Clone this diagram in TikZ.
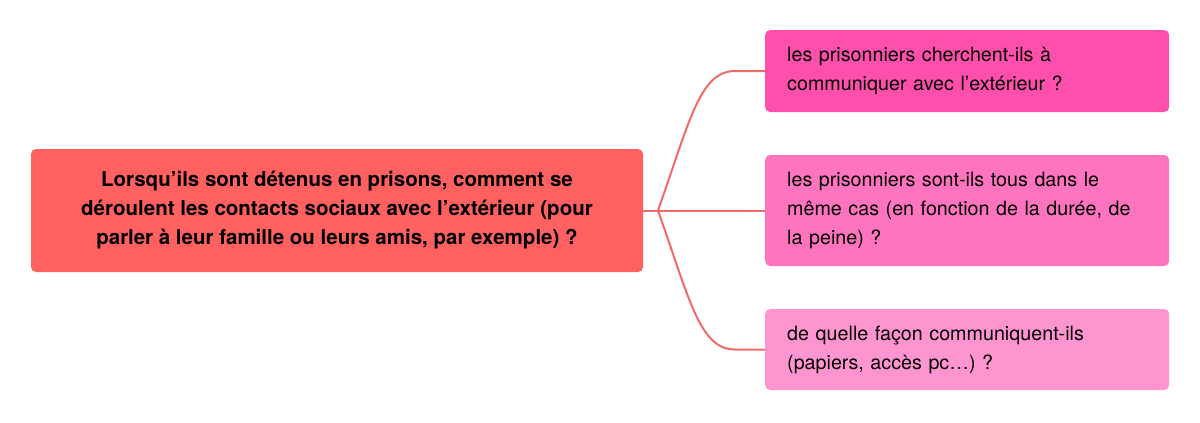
\documentclass[tikz,border=0pt]{standalone}
\usepackage{fontspec}
\setmainfont{TeX Gyre Heros}
\frenchspacing
\definecolor{mainred}{HTML}{FF6161}
\definecolor{kidA}{HTML}{FF4FAD}
\definecolor{kidB}{HTML}{FF74BF}
\definecolor{kidC}{HTML}{FF95D0}
\definecolor{linkred}{HTML}{F06A6A}
\begin{document}
\begin{tikzpicture}[x=1pt,y=-1pt,
  mainbox/.style={fill=mainred,rounded corners=5pt,minimum width=612pt,minimum height=123pt,
    align=center,font=\fontsize{20.5}{29}\selectfont\bfseries,text=black,inner sep=0pt},
  kidbox/.style={rounded corners=5pt,minimum width=404pt,anchor=west,
    align=left,text width=360pt,inner xsep=22pt,inner ysep=0pt,
    font=\fontsize{19.7}{29}\selectfont,text=black},
  link/.style={draw=linkred,line width=2pt}]
\useasboundingbox (0,0) rectangle (1200,423);
\node[mainbox] (main) at (337,210.5) {Lorsqu’ils sont détenus en prisons, comment se\\déroulent les contacts sociaux avec l’extérieur (pour\\parler à leur famille ou leurs amis, par exemple) ?};
\node[kidbox,fill=kidA,minimum height=82pt] (c1) at (765,71) {les prisonniers cherchent-ils à\\communiquer avec l’extérieur ?};
\node[kidbox,fill=kidB,minimum height=111pt] (c2) at (765,210.5) {les prisonniers sont-ils tous dans le\\même cas (en fonction de la durée, de\\la peine) ?};
\node[kidbox,fill=kidC,minimum height=81pt] (c3) at (765,349.5) {de quelle façon communiquent-ils\\(papiers, accès pc…) ?};
\coordinate (j) at (658,210.5);
\coordinate (t1) at (735,71);
\coordinate (t3) at (735,349.5);
\draw[link] (main.east) -- (j);
\draw[link] (j) -- (c2.west);
\draw[link] (j) .. controls (690,120) and (700,71) .. (t1) -- (c1.west);
\draw[link] (j) .. controls (690,301) and (700,349.5) .. (t3) -- (c3.west);
\end{tikzpicture}
\end{document}
